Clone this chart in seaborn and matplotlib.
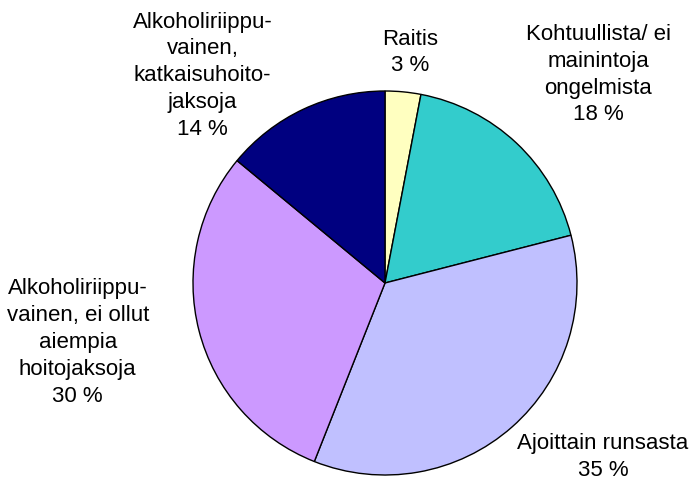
import matplotlib
matplotlib.use("Agg")
import matplotlib.pyplot as plt
import seaborn as sns

sns.set_theme(style="white")
plt.rcParams['font.family'] = ['Liberation Sans', 'DejaVu Sans']

categories = ["Raitis", "Kohtuullista/ ei\nmainintoja\nongelmista", "Ajoittain runsasta",
              "Alkoholiriippu-\nvainen, ei ollut\naiempia\nhoitojaksoja",
              "Alkoholiriippu-\nvainen,\nkatkaisuhoito-\njaksoja"]
values = [3, 18, 35, 30, 14]
colors = ["#FFFFC0", "#33CCCC", "#C0C0FF", "#CC99FF", "#000080"]
label_pos = [(0.13, 1.20), (1.11, 1.085), (1.135, -0.905), (-1.60, -0.31), (-0.95, 1.08)]

fig = plt.figure(figsize=(6.92, 4.87), dpi=100)
ax = fig.add_axes([0, 0, 1, 1])
ax.pie(values, colors=colors, startangle=90, counterclock=False, radius=1,
       wedgeprops=dict(edgecolor="black", linewidth=1.0))
for cat, v, (x, y) in zip(categories, values, label_pos):
    ax.text(x, y, f"{cat}\n{v} %", ha="center", va="center", fontsize=16,
            linespacing=1.36, color="black")
ax.set_xlim(-385/192, (692-385)/192)
ax.set_ylim((283-487)/192, 283/192)
ax.set_aspect("auto")
ax.axis("off")
fig.savefig("out.png", dpi=100)
